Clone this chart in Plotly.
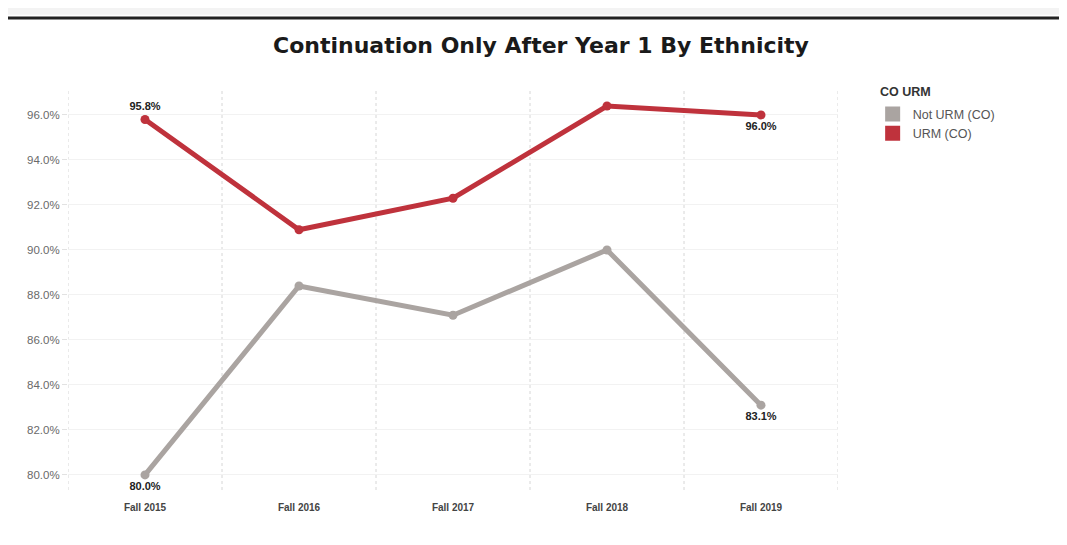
import plotly.graph_objects as go

categories = ["Fall 2015", "Fall 2016", "Fall 2017", "Fall 2018", "Fall 2019"]
not_urm = [80.0, 88.4, 87.1, 90.0, 83.1]
urm = [95.8, 90.9, 92.3, 96.4, 96.0]
y_ticks = [80, 82, 84, 86, 88, 90, 92, 94, 96]
y_tick_labels = [f"{v:.1f}%" for v in y_ticks]
legend_title = "CO URM"

GREY = "#aaa4a1"
RED = "#bf323c"

x = list(range(len(categories)))

def labels(vals):
    return [f"{v:.1f}%" if i in (0, len(vals) - 1) else "" for i, v in enumerate(vals)]

label_font = dict(family="Liberation Sans", size=11, color="#222222", weight="bold")

fig = go.Figure()
fig.add_trace(go.Scatter(
    x=x, y=not_urm, name="Not URM (CO)", mode="lines+markers+text", showlegend=False,
    line=dict(color=GREY, width=5), marker=dict(size=9, color=GREY),
    text=labels(not_urm), textposition="bottom center",
    textfont=label_font, cliponaxis=False,
))
fig.add_trace(go.Scatter(
    x=x, y=urm, name="URM (CO)", mode="lines+markers+text", showlegend=False,
    line=dict(color=RED, width=5), marker=dict(size=9, color=RED),
    text=labels(urm), textposition=["top center", "top center", "top center", "top center", "bottom center"],
    textfont=label_font, cliponaxis=False,
))
# legend-only entries with square swatches
for name, col in [("Not URM (CO)", GREY), ("URM (CO)", RED)]:
    fig.add_trace(go.Scatter(x=[None], y=[None], mode="markers", name=name,
                             marker=dict(symbol="square", size=15, color=col)))

shapes = []
for i in range(len(categories) + 1):
    shapes.append(dict(type="line", xref="x", yref="paper", x0=i - 0.5, x1=i - 0.5, y0=0, y1=1,
                       line=dict(color="#d6d6d6", width=1, dash="dot"), layer="below"))
shapes.append(dict(type="line", xref="paper", yref="paper", x0=-0.1, x1=1.4, y0=1.174, y1=1.174,
                   line=dict(color="#222222", width=3)))
shapes.append(dict(type="rect", xref="paper", yref="paper", x0=-0.2, x1=1.4, y0=1.182, y1=1.4,
                   fillcolor="#f3f3f3", line=dict(width=0), layer="below"))

fig.update_layout(
    width=1067, height=545,
    margin=dict(l=60, r=237, t=80, b=63),
    paper_bgcolor="white", plot_bgcolor="white",
    title=dict(text="<b>Continuation Only After Year 1 By Ethnicity</b>", x=0.4995, xanchor="center",
               y=0.932, yanchor="middle",
               font=dict(family="DejaVu Sans", size=22, color="#1a1a1a")),
    xaxis=dict(range=[-0.5, 4.5], tickvals=x, ticktext=[f"<b>{c}</b>" for c in categories],
               showgrid=False, zeroline=False, showline=False, automargin=False,
               ticks="outside", ticklen=8, tickcolor="rgba(0,0,0,0)",
               tickfont=dict(family="Liberation Sans", size=10, color="#444444")),
    yaxis=dict(range=[79.33, 97.2], tickvals=y_ticks, ticktext=y_tick_labels,
               showgrid=True, gridcolor="#f2f2f2", zeroline=False, automargin=False,
               tickfont=dict(family="Liberation Sans", size=11.5, color="#6a6a6a"),
               ticks="outside", ticklen=5, tickcolor="#e2e2e2"),
    legend=dict(x=1.045, y=0.972, xanchor="left", yanchor="top",
                font=dict(family="Liberation Sans", size=12.5, color="#555555"),
                itemwidth=30, tracegroupgap=0),
    annotations=[dict(text=f"<b>{legend_title}</b>", xref="paper", yref="paper",
                      x=1.052, y=0.99, xanchor="left", yanchor="middle", showarrow=False,
                      font=dict(family="Liberation Sans", size=12.5, color="#333333"))],
    shapes=shapes,
    showlegend=True,
)

fig.write_html("out.html")
